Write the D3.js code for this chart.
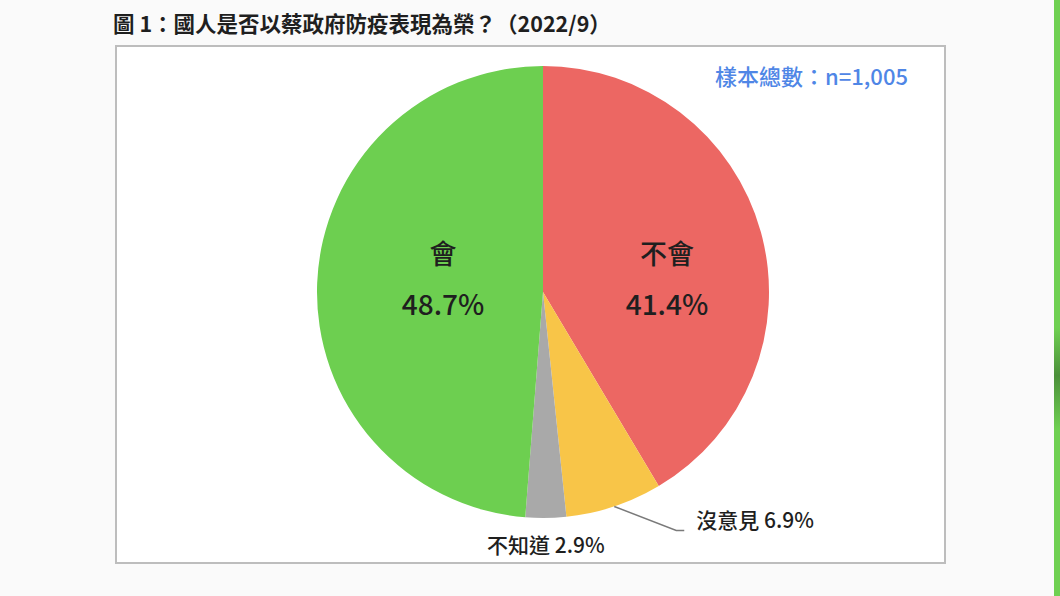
<!DOCTYPE html>
<html>
<head>
<meta charset="utf-8">
<script src="https://cdn.jsdelivr.net/npm/d3@7"></script>
<style>
  body { margin: 0; background: #fafafa; }
  svg { display: block; }
  text { font-family: "Noto Sans CJK TC", "Noto Sans", sans-serif; fill: #1f1f1f; }
</style>
</head>
<body>
<div id="chart"></div>
<script>
// data
var categories = ["不會", "沒意見", "不知道", "會"];
var shares = [41.4, 6.9, 2.9, 48.7];
var colors = ["#ec6763", "#f8c548", "#a9a9a9", "#6dcf50"];
var titleText = "圖 1：國人是否以蔡政府防疫表現為榮？（2022/9）";
var sampleText = "樣本總數：n=1,005";

var totalWidth = 1060, totalHeight = 596;
var cx = 543, cy = 292, radius = 226;

var svg = d3.select("#chart")
  .append("svg")
    .attr("width", totalWidth)
    .attr("height", totalHeight);

// green strip at the right edge
var grad = svg.append("defs").append("linearGradient")
    .attr("id", "strip").attr("x1", 0).attr("x2", 0).attr("y1", 0).attr("y2", 1);
grad.append("stop").attr("offset", "0%").attr("stop-color", "#6fd052");
grad.append("stop").attr("offset", "55%").attr("stop-color", "#6fd052");
grad.append("stop").attr("offset", "63%").attr("stop-color", "#4b8f3a");
grad.append("stop").attr("offset", "72%").attr("stop-color", "#6fd052");
grad.append("stop").attr("offset", "100%").attr("stop-color", "#6fd052");
svg.append("rect")
    .attr("x", 1054).attr("y", 0)
    .attr("width", 6).attr("height", totalHeight)
    .attr("fill", "url(#strip)");

// title
svg.append("text")
    .attr("x", 113)
    .attr("y", 32)
    .style("font-size", "21.5px")
    .style("font-weight", "bold")
    .text(titleText);

// frame
svg.append("rect")
    .attr("x", 116).attr("y", 46)
    .attr("width", 829).attr("height", 517)
    .attr("fill", "#ffffff")
    .attr("stroke", "#bdbdbd")
    .attr("stroke-width", 2);

svg.append("text")
    .attr("x", 908)
    .attr("y", 85)
    .style("text-anchor", "end")
    .style("font-size", "22px")
    .style("font-weight", 500)
    .style("fill", "#4f86e6")
    .text(sampleText);

var data = categories.map(function(c, i) {
  return {name: c, value: shares[i], color: colors[i]};
});

var pie = d3.pie()
    .sort(null)
    .value(function(d) { return d.value; });

var arc = d3.arc().innerRadius(0).outerRadius(radius);
var labelArc = d3.arc().innerRadius(radius * 0.5).outerRadius(radius * 0.5);
var edgeArc = d3.arc().innerRadius(radius).outerRadius(radius);

var arcs = pie(data);

var g = svg.append("g")
    .attr("transform", "translate(" + cx + "," + cy + ")");

g.selectAll("path")
   .data(arcs)
   .enter()
 .append("path")
   .attr("d", arc)
   .attr("fill", function(d) { return d.data.color; });

// big slices: name + percent inside
var nudge = {"不會": [15, 18], "會": [13, -8]};
var inside = arcs.filter(function(d) { return d.data.value > 20; });
var lab = g.selectAll("g.inlabel")
   .data(inside)
   .enter()
 .append("g")
   .attr("class", "inlabel")
   .attr("transform", function(d) {
      var c = labelArc.centroid(d);
      var n = nudge[d.data.name] || [0, 0];
      return "translate(" + (c[0] + n[0]) + "," + (c[1] + n[1]) + ")";
   });
lab.append("text")
   .attr("y", -16)
   .style("text-anchor", "middle")
   .style("font-size", "27px")
   .style("font-weight", 500)
   .text(function(d) { return d.data.name; });
lab.append("text")
   .attr("y", 35)
   .style("text-anchor", "middle")
   .style("font-size", "28px")
   .style("font-weight", 500)
   .text(function(d) { return d.data.value.toFixed(1) + "%"; });

// small slices: labels outside
var noOpinion = arcs[1], dontKnow = arcs[2];
var p0 = edgeArc.centroid(noOpinion);
g.append("polyline")
   .attr("points", [p0, [p0[0] + 62, p0[1] + 24], [p0[0] + 70, p0[1] + 24]].join(" "))
   .attr("fill", "none")
   .attr("stroke", "#7a7a7a")
   .attr("stroke-width", 1.5);
g.append("text")
   .attr("x", p0[0] + 82)
   .attr("y", p0[1] + 22)
   .style("font-size", "21px")
   .style("font-weight", 500)
   .text(noOpinion.data.name + " " + noOpinion.data.value.toFixed(1) + "%");

var p1 = edgeArc.centroid(dontKnow);
g.append("text")
   .attr("x", p1[0])
   .attr("y", p1[1] + 35)
   .style("text-anchor", "middle")
   .style("font-size", "21px")
   .style("font-weight", 500)
   .text(dontKnow.data.name + " " + dontKnow.data.value.toFixed(1) + "%");
</script>
</body>
</html>
